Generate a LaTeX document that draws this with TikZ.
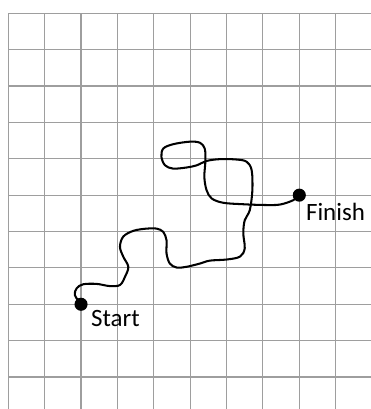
\documentclass[tikz,border=0pt]{standalone}
\usepackage{fontspec}
\setmainfont{Carlito}
\tikzset{
    gridline/.style={black!38, line width=0.9pt},
    walk/.style={black, line width=1.6pt, line cap=round, line join=round},
    label/.style={anchor=base west, inner sep=0pt, font=\fontsize{19.5}{23}\selectfont}
}
\begin{document}
\begin{tikzpicture}[scale=1.0]
    \useasboundingbox (-0.228,-0.879) rectangle (9.964,10.365);

    % Grid
    \draw[gridline] (0,-0.879) grid (9.964,10);

    % End points
    \coordinate (start) at (2,2);
    \coordinate (finish) at (8,5);

    % Random walk
    \draw[walk] plot[smooth, tension=0.55] coordinates {
        (start) (1.83,2.25) (1.88,2.44) (2.06,2.55) (2.43,2.56) (2.79,2.50)
        (3.07,2.53) (3.21,2.76) (3.30,3.03) (3.16,3.31) (3.07,3.58) (3.16,3.86)
        (3.44,4.02) (3.80,4.08) (4.08,4.08) (4.26,3.99) (4.35,3.76) (4.35,3.40)
        (4.44,3.12) (4.63,3.01) (4.90,3.03) (5.27,3.12) (5.54,3.20) (6.00,3.23)
        (6.37,3.31) (6.50,3.54) (6.46,3.95) (6.50,4.31) (6.64,4.59) (6.71,5.14)
        (6.69,5.69) (6.55,5.92) (6.27,5.98) (5.82,5.99) (5.45,5.94) (5.18,5.82)
        (4.90,5.76) (4.53,5.73) (4.31,5.82) (4.21,6.05) (4.26,6.28) (4.53,6.40)
        (4.99,6.47) (5.27,6.44) (5.40,6.28) (5.42,5.96) (5.39,5.50) (5.45,5.14)
        (5.59,4.91) (5.91,4.79) (6.46,4.75) (7.01,4.73) (7.46,4.74) (7.83,4.86)
        (finish)};

    % Start point
    \fill[black] (start) circle (0.18);
    \node[label] (startlabel) at (2.27,1.38) {Start};

    % Finish point
    \fill[black] (finish) circle (0.18);
    \node[label] (finishlabel) at (8.18,4.29) {Finish};
\end{tikzpicture}
\end{document}
